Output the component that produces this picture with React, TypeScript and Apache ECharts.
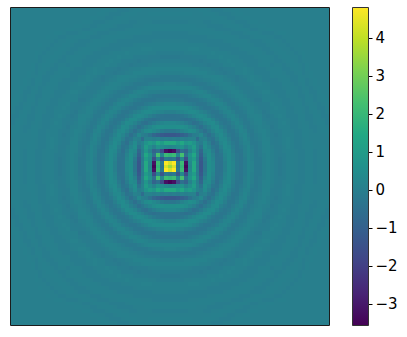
import React, { useEffect, useRef } from "react";
import * as echarts from "echarts";

const tickValues = [-3, -2, -1, 0, 1, 2, 3, 4];
const valueMin = -3.57;
const valueMax = 4.8;
const viridis = ["#440154", "#482475", "#414487", "#355f8d", "#2a788e", "#21918c", "#22a884", "#44bf70", "#7ad151", "#bddf26", "#fde725"];

const octant: number[][] = [
  [3.6],
  [4.3, 4.8],
  [-0.4, -0.2, -1.3],
  [1.9, 2.1, 0.3, 2.3],
  [-3.5, -3.2, -1.6, -0.5, -0.9],
  [0.2, 0.3, 0.5, 0.7, 0.1, 0.5],
  [1.5, 1.5, 1.0, 1.4, 0.8, 1.0, 0.7],
  [-0.1, 0, -0.1, 0.1, 0, 0.1, 0.1, -0.6],
  [-1.3, -1.3, -1.2, -1.0, -0.8, -0.4, -0.1, 0, 0.3],
  [-0.3, -0.3, -0.15, 0.1, 0.3, 0.5, 0.4, 0.1, -0.2, -0.5],
  [0.5, 0.5, 0.55, 0.55, 0.45, 0.2, 0, -0.25, -0.5, -0.2, 0.05],
  [0.3, 0.3, 0.2, 0.1, -0.05, -0.25, -0.5, -0.4, -0.15, 0.15, 0.35, 0.4],
  [-0.35, -0.35, -0.35, -0.4, -0.5, -0.4, -0.25, 0, 0.2, 0.4, 0.4, 0.15, -0.15],
  [-0.4, -0.4, -0.35, -0.3, -0.15, 0, 0.2, 0.35, 0.4, 0.3, 0.05, -0.15, -0.3, -0.25],
  [0.05, 0.05, 0.15, 0.2, 0.3, 0.4, 0.4, 0.3, 0.15, 0, -0.15, -0.3, -0.25, -0.05, 0.15],
  [0.4, 0.4, 0.4, 0.4, 0.4, 0.3, 0.15, 0, -0.15, -0.3, -0.3, -0.2, -0.05, 0.15, 0.2, 0.05],
  [0.2, 0.2, 0.15, 0.1, 0, -0.05, -0.15, -0.3, -0.3, -0.25, -0.1, 0.05, 0.2, 0.2, 0.05, -0.15, -0.2],
  [-0.15, -0.15, -0.2, -0.2, -0.3, -0.3, -0.3, -0.25, -0.15, -0.05, 0.1, 0.2, 0.15, 0, -0.15, -0.2, -0.05, 0.05],
  [-0.3, -0.3, -0.3, -0.3, -0.25, -0.15, -0.05, 0, 0.1, 0.2, 0.2, 0.05, -0.05, -0.15, -0.15, -0.05, 0.05, 0.15, 0.15],
  [-0.05, -0.05, -0.05, 0, 0.05, 0.05, 0.15, 0.2, 0.2, 0.1, -0.05, -0.15, -0.2, -0.15, -0.05, 0.05, 0.15, 0.15, 0.05, -0.05],
  [0.2, 0.2, 0.2, 0.2, 0.2, 0.2, 0.15, 0.05, -0.05, -0.15, -0.2, -0.15, -0.05, 0.05, 0.1, 0.15, 0.15, 0.05, -0.05, -0.1, -0.1],
  [0.1, 0.1, 0.05, 0.05, 0, -0.05, -0.15, -0.15, -0.2, -0.15, -0.05, 0, 0.05, 0.1, 0.15, 0.1, 0, -0.05, -0.1, -0.1, -0.05, 0.05],
  [-0.15, -0.15, -0.15, -0.2, -0.2, -0.2, -0.15, -0.1, -0.05, 0, 0.05, 0.1, 0.15, 0.15, 0.05, 0, -0.05, -0.15, -0.1, -0.05, 0.05, 0.1, 0.05],
  [-0.15, -0.15, -0.15, -0.1, -0.1, -0.05, -0.05, 0, 0.05, 0.1, 0.1, 0.15, 0.15, 0.1, 0, -0.05, -0.1, -0.15, -0.05, 0, 0.05, 0.1, 0.05, 0],
  [0.05, 0.05, 0.05, 0.05, 0.1, 0.1, 0.15, 0.15, 0.15, 0.15, 0.05, 0, -0.05, -0.1, -0.15, -0.1, -0.05, 0.05, 0.05, 0.1, 0.05, 0.05, -0.05, -0.05, -0.05],
  [0.15, 0.15, 0.15, 0.15, 0.15, 0.15, 0.15, 0.1, 0.05, 0.05, 0, -0.05, -0.1, -0.15, -0.1, -0.05, -0.05, 0.05, 0.05, 0.1, 0.05, 0, -0.05, -0.05, -0.05, 0],
  [0.05, 0.05, 0.05, 0.05, 0.05, 0, -0.05, -0.05, -0.05, -0.1, -0.15, -0.1, -0.05, -0.05, 0.05, 0.05, 0.1, 0.05, 0.05, 0, -0.05, -0.05, -0.05, 0.05, 0.05, 0.05, -0.05],
  [-0.05, -0.05, -0.05, -0.05, -0.05, -0.1, -0.1, -0.1, -0.15, -0.1, -0.05, -0.05, -0.05, 0.05, 0.05, 0.1, 0.05, 0.05, 0, -0.05, -0.05, -0.05, -0.05, 0, 0.05, 0.05, 0, -0.05],
  [-0.15, -0.15, -0.15, -0.1, -0.1, -0.1, -0.05, -0.05, -0.05, -0.05, 0.05, 0.05, 0.05, 0.1, 0.05, 0.05, 0.05, 0, -0.05, -0.05, -0.05, -0.05, 0, 0.05, 0.05, 0.05, 0, -0.05, 0],
  [-0.05, -0.05, -0.05, -0.05, 0, 0, 0.05, 0.05, 0.05, 0.05, 0.05, 0.1, 0.05, 0.05, 0.05, 0, -0.05, -0.05, -0.05, -0.05, 0, 0.05, 0.05, 0.05, 0, -0.05, -0.05, 0, 0.05, 0.05],
  [0.05, 0.05, 0.05, 0.05, 0.05, 0.1, 0.1, 0.1, 0.05, 0.05, 0.05, 0, 0, -0.05, -0.05, -0.05, -0.05, -0.05, 0, 0.05, 0.05, 0.05, 0.05, 0, -0.05, -0.05, 0, 0.05, 0.05, 0, 0],
  [0.05, 0.05, 0.05, 0.05, 0.05, 0.05, 0.05, 0.05, 0.05, 0, -0.05, -0.05, -0.05, -0.05, -0.05, -0.05, 0, 0.05, 0.05, 0.05, 0.05, 0, -0.05, -0.05, -0.05, 0, 0.05, 0.05, 0, 0, -0.05, 0],
  [0, 0, 0, 0, 0, -0.05, -0.05, -0.05, -0.05, -0.05, -0.05, -0.05, -0.05, -0.05, 0, 0.05, 0.05, 0.05, 0.05, 0.05, 0, -0.05, -0.05, -0.05, 0, 0.05, 0.05, 0, 0, -0.05, 0, 0, 0],
  [-0.05, -0.05, -0.05, -0.05, -0.05, -0.05, -0.05, -0.05, -0.05, -0.05, 0, 0, 0.05, 0.05, 0.05, 0.05, 0.05, 0, -0.05, -0.05, -0.05, 0, 0.05, 0.05, 0.05, 0, 0, -0.05, -0.05, 0, 0, 0.05, 0, 0],
  [-0.05, -0.05, -0.05, -0.05, -0.05, 0, 0, 0, 0.05, 0.05, 0.05, 0.05, 0.05, 0.05, 0, 0, -0.05, -0.05, -0.05, 0, 0.05, 0.05, 0.05, 0, -0.05, -0.05, -0.05, 0, 0.05, 0.05, 0, 0, 0, 0, 0],
  [0.05, 0.05, 0.05, 0.05, 0.05, 0.05, 0.05, 0.05, 0.05, 0.05, 0.05, 0, -0.05, -0.05, -0.05, -0.05, 0, 0.05, 0.05, 0.05, 0, -0.05, -0.05, 0, 0, 0.05, 0.05, 0, 0, 0, 0, 0, 0, 0, 0, 0],
  [0.05, 0.05, 0.05, 0.05, 0.05, 0.05, 0.05, 0, 0, 0, -0.05, -0.05, -0.05, -0.05, 0, 0.05, 0.05, 0.05, 0, -0.05, -0.05, 0, 0, 0.05, 0.05, 0, 0, 0, 0, 0, 0, 0, 0, 0, 0, 0, 0],
  [-0.05, -0.05, -0.05, -0.05, -0.05, 0, 0, 0, 0, -0.05, -0.05, 0, 0, 0.05, 0.05, 0.05, 0, -0.05, -0.05, -0.05, 0, 0.05, 0.05, 0, 0, 0, 0, 0, 0, 0, 0, 0, 0, 0, 0, 0, 0, 0],
  [0, 0, 0, 0, 0, 0, 0, 0, 0, 0, 0, 0.05, 0.05, 0.05, 0, -0.05, -0.05, 0, 0, 0.05, 0.05, 0, 0, 0, 0, 0, 0, 0, 0, 0, 0, 0, 0, 0, 0, 0, 0, 0, 0],
  [0.05, 0.05, 0.05, 0.05, 0.05, 0.05, 0, 0, 0, 0.05, 0.05, 0.05, 0, -0.05, -0.05, -0.05, 0, 0.05, 0.05, 0, 0, 0, 0, 0, 0, 0, 0, 0, 0, 0, 0, 0, 0, 0, 0, 0, 0, 0, 0, 0],
  [0, 0, 0, 0, 0, 0, 0, 0, 0.05, 0.05, 0, -0.05, -0.05, -0.05, 0, 0, 0.05, 0.05, 0, 0, 0, 0, 0, 0, 0, 0, 0, 0, 0, 0, 0, 0, 0, 0, 0, 0, 0, 0, 0, 0, 0],
];

const size = octant.length;
const indices: number[] = [];
for (let i = -size + 1; i < size; i++) indices.push(i);

function buildCells() {
  const cells: [number, number, number][] = [];
  indices.forEach((yi, y) => {
    indices.forEach((xi, x) => {
      const a = Math.abs(yi);
      const b = Math.abs(xi);
      const v = octant[Math.max(a, b)][Math.min(a, b)] ?? 0;
      cells.push([x, y, v]);
    });
  });
  return cells;
}

export default function App() {
  const ref = useRef<HTMLDivElement>(null);
  useEffect(() => {
    const chart = echarts.init(ref.current!, null, { renderer: "svg" });
    const stops = viridis.map((color, i) => ({ offset: i / (viridis.length - 1), color }));
    chart.setOption({
      animation: false,
      backgroundColor: "#fff",
      textStyle: { fontFamily: "DejaVu Sans" },
      grid: [
        { left: 11, top: 8, width: 318, height: 317, containLabel: false },
        { left: 352.5, top: 7.5, width: 16, height: 318, containLabel: false },
      ],
      xAxis: [
        { type: "category", gridIndex: 0, data: indices, show: false },
        { type: "category", gridIndex: 1, data: ["c"], show: false },
      ],
      yAxis: [
        { type: "category", gridIndex: 0, data: indices, show: false },
        {
          type: "value",
          gridIndex: 1,
          position: "right",
          min: valueMin,
          max: valueMax,
          splitLine: { show: false },
          axisLine: { show: false },
          axisTick: { show: true, length: 4, customValues: tickValues, lineStyle: { color: "#000", width: 1 } },
          axisLabel: {
            show: true,
            customValues: tickValues,
            fontSize: 15,
            color: "#000",
            margin: 7,
            fontFamily: "DejaVu Sans",
            formatter: (v: number) => String(v).replace("-", "\u2212"),
          },
        },
      ],
      visualMap: {
        show: false,
        type: "continuous",
        seriesIndex: 0,
        dimension: 2,
        min: valueMin,
        max: valueMax,
        inRange: { color: viridis },
      },
      series: [
        {
          type: "custom",
          xAxisIndex: 0,
          yAxisIndex: 0,
          silent: true,
          data: buildCells(),
          encode: { x: 0, y: 1 },
          progressive: 0,
          renderItem: (_params: any, api: any) => {
            const c = api.coord([api.value(0), api.value(1)]);
            const s = api.size([1, 1]);
            const x0 = Math.round(c[0] - s[0] / 2);
            const x1 = Math.round(c[0] + s[0] / 2);
            const y0 = Math.round(c[1] - s[1] / 2);
            const y1 = Math.round(c[1] + s[1] / 2);
            return {
              type: "rect",
              shape: { x: x0, y: y0, width: x1 - x0, height: y1 - y0 },
              style: { fill: api.visual("color") },
            };
          },
        },
        {
          type: "custom",
          xAxisIndex: 1,
          yAxisIndex: 1,
          silent: true,
          data: [[0, valueMin, valueMax]],
          encode: { x: 0, y: [1, 2] },
          renderItem: (params: any, api: any) => {
            const top = api.coord([0, api.value(2)]);
            const bottom = api.coord([0, api.value(1)]);
            const cs = params.coordSys;
            return {
              type: "rect",
              shape: { x: cs.x, y: top[1], width: cs.width, height: bottom[1] - top[1] },
              style: {
                fill: new echarts.graphic.LinearGradient(0, 1, 0, 0, stops),
                stroke: "#333",
                lineWidth: 1,
              },
            };
          },
        },
      ],
      graphic: [
        {
          type: "rect",
          z: 100,
          silent: true,
          shape: { x: 10.5, y: 7.5, width: 319, height: 318 },
          style: { fill: "none", stroke: "#1c1c1c", lineWidth: 1 },
        },
      ],
    });
    return () => chart.dispose();
  }, []);
  return (
    <div
      ref={ref}
      style={{ position: "absolute", left: 0, top: 0, width: 407, height: 337 }}
    />
  );
}
